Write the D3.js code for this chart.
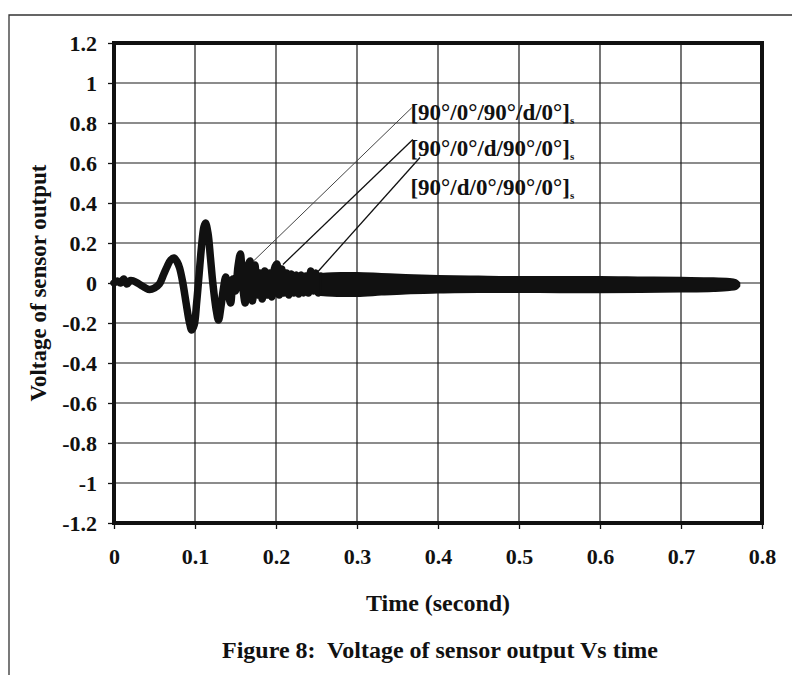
<!DOCTYPE html>
<html>
<head>
<meta charset="utf-8">
<script src="https://cdn.jsdelivr.net/npm/d3@7"></script>
<style>
  html, body { margin: 0; padding: 0; background: #fff; }
  svg { display: block; }
  text { font-family: "Liberation Serif", "Times New Roman", serif; font-weight: bold; fill: #111; }
</style>
</head>
<body>
<svg id="chart" width="792" height="675"></svg>
<script>
// ---- data ----
const xTicks = [0, 0.1, 0.2, 0.3, 0.4, 0.5, 0.6, 0.7, 0.8];
const xTickLabels = ["0", "0.1", "0.2", "0.3", "0.4", "0.5", "0.6", "0.7", "0.8"];
const yTicks = [1.2, 1, 0.8, 0.6, 0.4, 0.2, 0, -0.2, -0.4, -0.6, -0.8, -1, -1.2];
const yTickLabels = ["1.2", "1", "0.8", "0.6", "0.4", "0.2", "0", "-0.2", "-0.4", "-0.6", "-0.8", "-1", "-1.2"];

// combined (overlapping) early response of the three laminates
const timeEarly = [0, 0.004, 0.008, 0.012, 0.016, 0.020, 0.024, 0.029, 0.034, 0.039, 0.044, 0.050, 0.056, 0.061, 0.066, 0.070, 0.074, 0.078, 0.081, 0.085, 0.089, 0.093, 0.096, 0.099, 0.102, 0.105, 0.108, 0.111, 0.113, 0.116, 0.119, 0.122, 0.126, 0.129, 0.132, 0.135, 0.138, 0.141, 0.144, 0.147, 0.150, 0.153, 0.156, 0.159, 0.162, 0.165, 0.168, 0.171, 0.174, 0.177, 0.180, 0.183, 0.186, 0.189, 0.192, 0.195, 0.198, 0.201, 0.204, 0.207, 0.210, 0.213, 0.216, 0.219, 0.222, 0.225, 0.228, 0.231, 0.234, 0.237, 0.240, 0.243, 0.246, 0.249, 0.252, 0.255, 0.258, 0.261];
const voltEarly = [0.0, 0.01, 0.0, 0.02, -0.005, 0.012, 0.01, 0.0, -0.013, -0.025, -0.033, -0.025, -0.005, 0.04, 0.086, 0.115, 0.125, 0.105, 0.075, 0.0, -0.1, -0.195, -0.235, -0.21, -0.1, 0.04, 0.18, 0.28, 0.3, 0.25, 0.13, 0.0, -0.13, -0.185, -0.12, -0.03, 0.03, -0.05, -0.1, 0.02, -0.04, 0.08, 0.145, -0.02, -0.1, 0.08, 0.11, -0.09, 0.09, -0.06, 0.05, -0.08, 0.06, -0.06, 0.05, -0.07, 0.07, 0.095, -0.06, 0.07, -0.05, 0.05, -0.06, 0.045, -0.05, 0.04, -0.055, 0.04, -0.05, 0.035, -0.05, 0.06, -0.04, 0.05, -0.05, 0.035, -0.045, 0.03];

// dense late oscillation, drawn as its envelope band
const bandTime = [0.255, 0.28, 0.30, 0.33, 0.36, 0.40, 0.45, 0.50, 0.55, 0.60, 0.65, 0.70, 0.74, 0.76, 0.768, 0.772];
const bandUpper = [0.045, 0.05, 0.05, 0.045, 0.04, 0.035, 0.032, 0.03, 0.03, 0.03, 0.028, 0.026, 0.024, 0.02, 0.014, 0.0];
const bandLower = [-0.06, -0.065, -0.065, -0.058, -0.052, -0.048, -0.045, -0.045, -0.046, -0.046, -0.045, -0.043, -0.04, -0.035, -0.03, -0.015];

// annotations: label text, label anchor (t, v), leader start (t, v), leader tip (t, v)
const annoText = ["[90°/0°/90°/d/0°]", "[90°/0°/d/90°/0°]", "[90°/d/0°/90°/0°]"];
const annoLabelT = [0.366, 0.366, 0.366];
const annoLabelV = [0.855, 0.675, 0.48];
const annoStartT = [0.3675, 0.369, 0.3778];
const annoStartV = [0.876, 0.7175, 0.6275];
const annoTipT = [0.1716, 0.2086, 0.2519];
const annoTipV = [0.1075, 0.0925, 0.0575];

// ---- chart ----
const svg = d3.select("#chart");
const margin = { left: 114, right: 30, top: 43, bottom: 152 };
const W = 792, H = 675;
const x = d3.scaleLinear().domain([0, 0.8]).range([margin.left, W - margin.right]);
const y = d3.scaleLinear().domain([-1.2, 1.2]).range([H - margin.bottom, margin.top]);

// outer figure border
svg.append("path")
  .attr("d", `M9,${H + 5} L9,15 L${W + 5},15`)
  .attr("fill", "none").attr("stroke", "#333").attr("stroke-width", 1.3);

// grid
const g = svg.append("g");
g.selectAll("line.vg").data(xTicks.slice(1, -1)).enter().append("line")
  .attr("x1", d => x(d)).attr("x2", d => x(d))
  .attr("y1", y(1.2)).attr("y2", y(-1.2))
  .attr("stroke", "#1a1a1a").attr("stroke-width", 1.2);
g.selectAll("line.hg").data(yTicks.slice(1, -1)).enter().append("line")
  .attr("x1", x(0)).attr("x2", x(0.8))
  .attr("y1", d => y(d)).attr("y2", d => y(d))
  .attr("stroke", "#1a1a1a").attr("stroke-width", 1.2);

// axes
const xAxis = d3.axisBottom(x).tickValues(xTicks)
  .tickFormat((d, i) => xTickLabels[i]).tickSize(6).tickPadding(19).tickSizeOuter(0);
const yAxis = d3.axisLeft(y).tickValues(yTicks)
  .tickFormat((d, i) => yTickLabels[i]).tickSize(6).tickPadding(11).tickSizeOuter(0);

const gx = svg.append("g").attr("transform", `translate(0,${y(-1.2)})`).call(xAxis);
const gy = svg.append("g").attr("transform", `translate(${x(0)},0)`).call(yAxis);
[gx, gy].forEach(a => {
  a.select(".domain").remove();
  a.selectAll(".tick line").attr("stroke", "#111").attr("stroke-width", 1.3);
  a.selectAll(".tick text").attr("font-size", 22).attr("font-family", "Liberation Serif, serif")
    .attr("font-weight", "bold").attr("fill", "#111");
});

// data: early trace
const line = d3.line().x((d, i) => x(timeEarly[i])).y(d => y(d)).curve(d3.curveCatmullRom.alpha(0.5));
svg.append("path").datum(voltEarly)
  .attr("d", line)
  .attr("fill", "none").attr("stroke", "#111").attr("stroke-width", 7.5)
  .attr("stroke-linejoin", "round").attr("stroke-linecap", "round");

// data: late band
const area = d3.area()
  .x((d, i) => x(bandTime[i]))
  .y0((d, i) => y(bandLower[i]))
  .y1((d, i) => y(bandUpper[i]))
  .curve(d3.curveMonotoneX);
svg.append("path").datum(bandTime)
  .attr("d", area)
  .attr("fill", "#111").attr("stroke", "#111").attr("stroke-width", 2).attr("stroke-linejoin", "round");

// frame
svg.append("rect")
  .attr("x", x(0)).attr("y", y(1.2))
  .attr("width", x(0.8) - x(0)).attr("height", y(-1.2) - y(1.2))
  .attr("fill", "none").attr("stroke", "#111").attr("stroke-width", 4);

// annotations
annoText.forEach((t, i) => {
  svg.append("line")
    .attr("x1", x(annoStartT[i])).attr("y1", y(annoStartV[i]))
    .attr("x2", x(annoTipT[i])).attr("y2", y(annoTipV[i]))
    .attr("stroke", i === 0 ? "#444" : "#111").attr("stroke-width", i === 0 ? 1 : 1.3);
  const tx = svg.append("text")
    .attr("x", x(annoLabelT[i])).attr("y", y(annoLabelV[i]))
    .attr("dominant-baseline", "central")
    .attr("font-size", 23);
  tx.append("tspan").text(t);
  tx.append("tspan").text("s").attr("font-size", 11).attr("dy", 8);
});

// axis titles
svg.append("text")
  .attr("transform", `translate(38,${(y(1.2) + y(-1.2)) / 2}) rotate(-90)`)
  .attr("text-anchor", "middle").attr("dominant-baseline", "central")
  .attr("font-size", 23).text("Voltage of sensor output");
svg.append("text")
  .attr("x", (x(0) + x(0.8)) / 2).attr("y", 603)
  .attr("text-anchor", "middle").attr("dominant-baseline", "central")
  .attr("font-size", 24).text("Time (second)");
svg.append("text")
  .attr("x", (x(0) + x(0.8)) / 2 + 2).attr("y", 650)
  .attr("text-anchor", "middle").attr("dominant-baseline", "central")
  .attr("font-size", 24).text("Figure 8:\u00a0 Voltage of sensor output Vs time");
</script>
</body>
</html>
